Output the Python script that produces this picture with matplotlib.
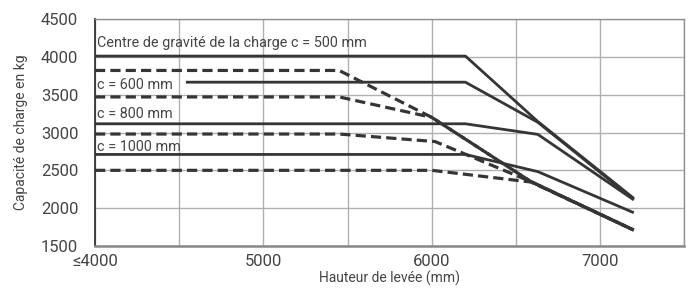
import matplotlib
matplotlib.use("Agg")
import matplotlib.pyplot as plt

plt.rcParams['font.family'] = ['Roboto', 'DejaVu Sans']

# Lift height (mm) / capacity (kg)
c500_x = [4000, 6200, 6630, 7200]
c500_y = [4010, 4010, 3145, 2130]
c600_x = [4540, 6200, 6630, 7200]
c600_y = [3665, 3665, 3135, 2115]
c800_x = [4000, 6200, 6630, 7200]
c800_y = [3115, 3115, 2975, 2110]
c1000_x = [4000, 6200, 6630, 7200]
c1000_y = [2710, 2710, 2483, 1940]

d1_x = [4000, 5450, 6000, 6590, 7200]
d1_y = [3820, 3820, 3200, 2350, 1710]
d2_x = [4000, 5450, 6000, 6590, 7200]
d2_y = [3470, 3470, 3200, 2350, 1710]
d3_x = [4000, 5450, 6020, 6590, 7200]
d3_y = [2980, 2980, 2880, 2350, 1710]
d4_x = [4000, 6000, 6590, 7200]
d4_y = [2500, 2500, 2345, 1710]

labels = ["Centre de gravité de la charge c = 500 mm", "c = 600 mm", "c = 800 mm", "c = 1000 mm"]
label_y = [4135, 3575, 3195, 2755]

xticks = [4000, 4500, 5000, 5500, 6000, 6500, 7000, 7500]
xticklabels = ["≤4000", "", "5000", "", "6000", "", "7000", ""]
yticks = [1500, 2000, 2500, 3000, 3500, 4000, 4500]

fig = plt.figure(figsize=(6.94, 2.91), dpi=100)
ax = fig.add_axes([95/694, 1-246/291, (684.3-95)/694, (246-19)/291])

col = "#353535"
for xs, ys in [(c500_x, c500_y), (c600_x, c600_y), (c800_x, c800_y), (c1000_x, c1000_y)]:
    ax.plot(xs, ys, color=col, lw=2.0, solid_capstyle='butt', zorder=3)
for xs, ys in [(d1_x, d1_y), (d2_x, d2_y), (d3_x, d3_y), (d4_x, d4_y)]:
    ax.plot(xs, ys, color=col, lw=2.3, linestyle=(0, (3.2, 1.6)), zorder=3)

for t, y in zip(labels, label_y):
    ax.text(4012, y, t, fontsize=10.4, color="#444444", ha='left', va='baseline', zorder=4)

ax.set_xlim(4000, 7500)
ax.set_ylim(1500, 4500)
ax.set_xticks(xticks)
ax.set_xticklabels(xticklabels)
ax.set_yticks(yticks)
ax.grid(True, color="#b0b0b0", lw=1.0, zorder=0)
ax.tick_params(length=0, labelsize=12, colors="#444444")
ax.tick_params(axis='y', pad=12)
ax.tick_params(axis='x', pad=6)
for s in ['top', 'right']:
    ax.spines[s].set_color("#909090")
    ax.spines[s].set_linewidth(1.0)
ax.spines['left'].set_color("#333333")
ax.spines['left'].set_linewidth(1.3)
ax.spines['bottom'].set_color("#888888")
ax.spines['bottom'].set_linewidth(1.8)

ax.set_xlabel("Hauteur de levée (mm)", fontsize=10, color="#444444", labelpad=1)
ax.set_ylabel("Capacité de charge en kg", fontsize=10, color="#444444", labelpad=9)

fig.savefig("out.png", dpi=100)
